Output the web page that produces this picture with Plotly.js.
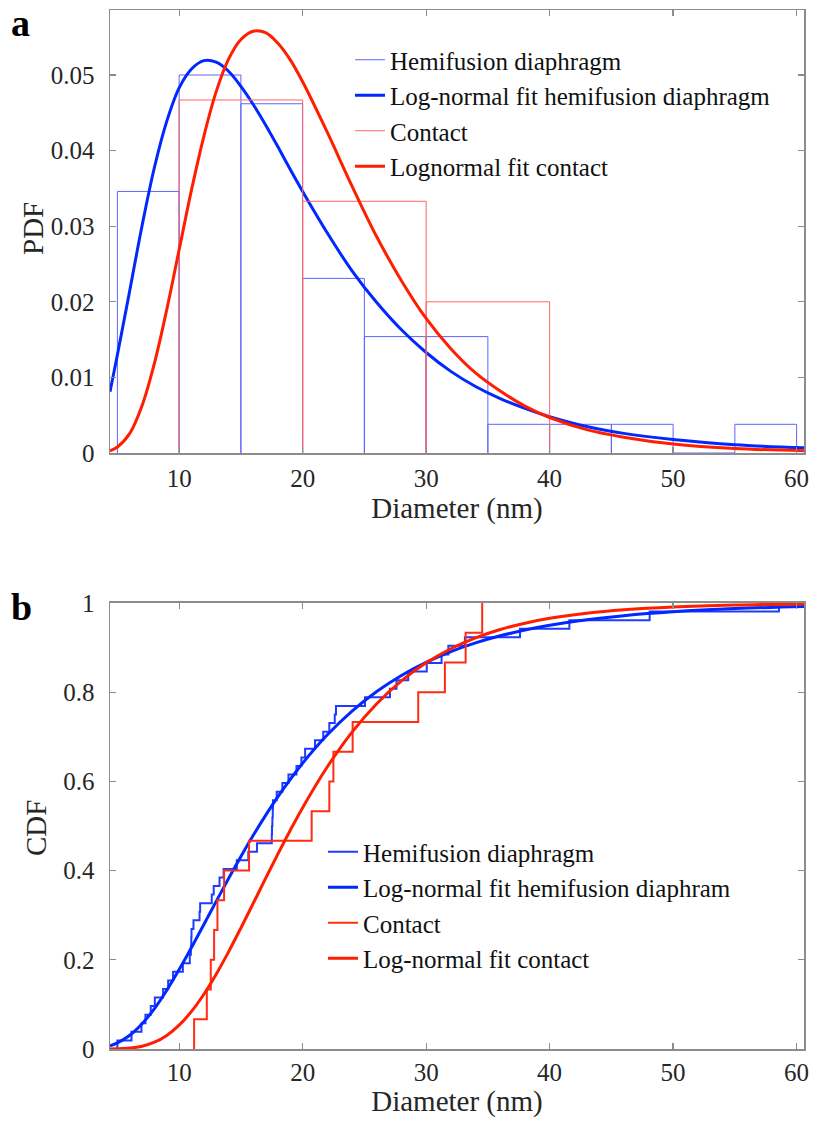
<!DOCTYPE html>
<html>
<head>
<meta charset="utf-8">
<script src="https://cdn.plot.ly/plotly-3.0.1.min.js"></script>
<style>html,body{margin:0;padding:0;background:#fff;}</style>
</head>
<body>
<div id="chart" style="width:814px;height:1122px;"></div>
<script>
// ---------- data ----------
// Histogram (PDF normalisation) - hemifusion diaphragm, bin width 5
const hemiBinEdges = [5, 10, 15, 20, 25, 30, 35, 40, 45, 50, 55, 60];
const hemiBinPdf   = [0.0346, 0.0500, 0.0462, 0.0231, 0.0154, 0.0154, 0.0038, 0.0038, 0.0038, 0, 0.0038];
// Histogram - contact, bin width 10
const contactBinEdges = [10, 20, 30, 40];
const contactBinPdf   = [0.0467, 0.0333, 0.0200];

// Log-normal fit curves
const fitX = [4.4, 5, 6, 7, 8, 9, 10, 11, 12, 13, 14, 15, 16, 17, 18, 19, 20, 22, 24, 26, 28, 30, 32, 34, 36, 38, 40, 43, 46, 50, 55, 60.6];
const fitHemiPdf = [0.0081, 0.0130, 0.0215, 0.0301, 0.0378, 0.0439, 0.0483, 0.0508, 0.0519, 0.0517, 0.0505, 0.0485, 0.0461, 0.0434, 0.0405, 0.0375, 0.0346, 0.0291, 0.0241, 0.0199, 0.0163, 0.0133, 0.0108, 0.0088, 0.0072, 0.0059, 0.0048, 0.0035, 0.0026, 0.0018, 0.0011, 0.0007];
const fitContactPdf = [0.0003, 0.0008, 0.0026, 0.0063, 0.0119, 0.0190, 0.0269, 0.0348, 0.0419, 0.0478, 0.0521, 0.0547, 0.0558, 0.0556, 0.0542, 0.0520, 0.0491, 0.0424, 0.0353, 0.0286, 0.0228, 0.0178, 0.0138, 0.0106, 0.0082, 0.0062, 0.0047, 0.0031, 0.0021, 0.0012, 0.0006, 0.0003];
const fitHemiCdf = [0.0073, 0.0137, 0.0308, 0.0567, 0.0907, 0.1318, 0.1780, 0.2277, 0.2791, 0.3310, 0.3822, 0.4317, 0.4790, 0.5238, 0.5658, 0.6047, 0.6408, 0.7044, 0.7575, 0.8014, 0.8374, 0.8667, 0.8908, 0.9104, 0.9264, 0.9393, 0.9499, 0.9623, 0.9715, 0.9802, 0.9873, 0.9921];
const fitContactCdf = [0.0001, 0.0004, 0.0020, 0.0063, 0.0152, 0.0305, 0.0534, 0.0843, 0.1228, 0.1678, 0.2178, 0.2714, 0.3267, 0.3825, 0.4375, 0.4905, 0.5411, 0.6327, 0.7105, 0.7742, 0.8254, 0.8658, 0.8974, 0.9217, 0.9404, 0.9547, 0.9656, 0.9771, 0.9848, 0.9911, 0.9954, 0.9978];

// Empirical CDF steps - hemifusion diaphragm (n = 52)
const ecdfHemiX = [5.0, 5.0, 6.14, 6.95, 7.27, 7.7, 8.03, 8.7, 9.11, 9.51, 10.3, 10.86, 10.95, 10.98, 11.0, 11.16, 11.65, 11.7, 12.64, 12.8, 13.27, 13.6, 14.67, 15.6, 16.3, 17.5, 17.52, 17.55, 17.58, 17.6, 17.9, 18.36, 18.85, 19.5, 19.9, 20.2, 21.0, 21.67, 22.16, 22.6, 22.7, 25.05, 27.07, 27.6, 28.55, 30.05, 31.25, 31.8, 33.14, 37.6, 41.6, 48.1, 58.57];
const ecdfHemiY = [0, 0.0192, 0.0385, 0.0577, 0.0769, 0.0962, 0.1154, 0.1346, 0.1538, 0.1731, 0.1923, 0.2115, 0.2308, 0.25, 0.2692, 0.2885, 0.3077, 0.3269, 0.3462, 0.3654, 0.3846, 0.4038, 0.4231, 0.4423, 0.4615, 0.4808, 0.5, 0.5192, 0.5385, 0.5577, 0.5769, 0.5962, 0.6154, 0.6346, 0.6538, 0.6731, 0.6923, 0.7115, 0.7308, 0.75, 0.7692, 0.7885, 0.8077, 0.8269, 0.8462, 0.8654, 0.8846, 0.9038, 0.9231, 0.9423, 0.9615, 0.9808, 1];
// Empirical CDF steps - contact (n = 15)
const ecdfContactX = [11.21, 11.21, 12.24, 12.56, 12.83, 13.1, 13.64, 15.66, 20.73, 22.16, 22.49, 24.05, 29.36, 31.52, 33.2, 34.54];
const ecdfContactY = [0, 0.0667, 0.1333, 0.2, 0.2667, 0.3333, 0.4, 0.4667, 0.5333, 0.6, 0.6667, 0.7333, 0.8, 0.8667, 0.9333, 1];

// Tick values
const xTicks = [10, 20, 30, 40, 50, 60];
const pdfTicks = [0, 0.01, 0.02, 0.03, 0.04, 0.05];
const cdfTicks = [0, 0.2, 0.4, 0.6, 0.8, 1];

// ---------- styling ----------
const FONT = 'Liberation Serif, "Times New Roman", serif';
const BLUE = 'rgb(0,40,255)';
const RED = 'rgb(255,30,0)';
const BLUE_THIN = 'rgb(95,100,255)';
const RED_THIN = 'rgb(255,100,100)';
const AX = '#8c8c8c';
const TXT = '#262626';

// bar outlines (each bin drawn as a rectangle, like the reference)
function outline(edges, vals) {
  const xs = [], ys = [];
  for (let i = 0; i < vals.length; i++) {
    xs.push(edges[i], edges[i], edges[i + 1], edges[i + 1], null);
    ys.push(0, vals[i], vals[i], 0, null);
  }
  return {xs, ys};
}
const hemiBars = outline(hemiBinEdges, hemiBinPdf);
const contactBars = outline(contactBinEdges, contactBinPdf);

const traces = [
  {x: hemiBars.xs, y: hemiBars.ys, type: 'scatter', mode: 'lines', name: 'Hemifusion diaphragm',
   line: {color: BLUE_THIN, width: 1}, xaxis: 'x', yaxis: 'y', legend: 'legend', connectgaps: false},
  {x: fitX, y: fitHemiPdf, type: 'scatter', mode: 'lines', name: 'Log-normal fit hemifusion diaphragm',
   line: {color: BLUE, width: 3, shape: 'spline'}, xaxis: 'x', yaxis: 'y', legend: 'legend'},
  {x: contactBars.xs, y: contactBars.ys, type: 'scatter', mode: 'lines', name: 'Contact',
   line: {color: RED_THIN, width: 1}, xaxis: 'x', yaxis: 'y', legend: 'legend', connectgaps: false},
  {x: fitX, y: fitContactPdf, type: 'scatter', mode: 'lines', name: 'Lognormal fit contact',
   line: {color: RED, width: 3, shape: 'spline'}, xaxis: 'x', yaxis: 'y', legend: 'legend'},

  {x: ecdfHemiX, y: ecdfHemiY, type: 'scatter', mode: 'lines', name: 'Hemifusion diaphragm',
   line: {color: 'rgb(30,60,255)', width: 2, shape: 'hv'}, xaxis: 'x2', yaxis: 'y2', legend: 'legend2'},
  {x: fitX, y: fitHemiCdf, type: 'scatter', mode: 'lines', name: 'Log-normal fit hemifusion diaphram',
   line: {color: BLUE, width: 3, shape: 'spline'}, xaxis: 'x2', yaxis: 'y2', legend: 'legend2'},
  {x: ecdfContactX, y: ecdfContactY, type: 'scatter', mode: 'lines', name: 'Contact',
   line: {color: 'rgb(255,45,20)', width: 2, shape: 'hv'}, xaxis: 'x2', yaxis: 'y2', legend: 'legend2'},
  {x: fitX, y: fitContactCdf, type: 'scatter', mode: 'lines', name: 'Log-normal fit contact',
   line: {color: RED, width: 3, shape: 'spline'}, xaxis: 'x2', yaxis: 'y2', legend: 'legend2'}
];

const axisBase = {
  showline: true, linecolor: AX, linewidth: 1.5, mirror: 'ticks',
  ticks: 'inside', ticklen: 6, tickwidth: 1.2, tickcolor: AX,
  showgrid: false, zeroline: false, fixedrange: true,
  tickfont: {family: FONT, size: 25, color: TXT}
};
const titleFont = {family: FONT, size: 29, color: TXT};

// pixel -> paper helpers for the free-standing labels
const PL = 110, PW = 694, PB = 1049, PH = 1039;
const px = v => (v - PL) / PW;
const py = v => (PB - v) / PH;

const layout = {
  width: 814, height: 1122,
  margin: {l: 110, r: 10, t: 10, b: 73, pad: 0},
  paper_bgcolor: '#ffffff', plot_bgcolor: '#ffffff',
  showlegend: true,
  xaxis: Object.assign({}, axisBase, {
    domain: [0, 1], anchor: 'y', range: [4.4, 60.6], tickmode: 'array', tickvals: xTicks,
    ticklabelstandoff: 2,
    title: {text: 'Diameter (nm)', font: titleFont, standoff: 3}
  }),
  yaxis: Object.assign({}, axisBase, {
    domain: [0.5736, 1], anchor: 'x', range: [0, 0.0586], tickmode: 'array', tickvals: pdfTicks,
    ticktext: pdfTicks.map(v => v === 0 ? '0' : v.toFixed(2)),
    ticklabelstandoff: 9
  }),
  xaxis2: Object.assign({}, axisBase, {
    domain: [0, 1], anchor: 'y2', range: [4.4, 60.6], tickmode: 'array', tickvals: xTicks,
    ticklabelstandoff: 0,
    title: {text: 'Diameter (nm)', font: titleFont, standoff: 0}
  }),
  yaxis2: Object.assign({}, axisBase, {
    domain: [0, 0.4293], anchor: 'x2', range: [0, 1], tickmode: 'array', tickvals: cdfTicks,
    ticktext: cdfTicks.map(v => String(v)),
    ticklabelstandoff: 9
  }),
  legend: {
    x: px(350), y: py(37), xanchor: 'left', yanchor: 'top',
    bgcolor: 'rgba(0,0,0,0)', borderwidth: 0,
    font: {family: FONT, size: 25, color: '#111'}, itemwidth: 30, tracegroupgap: 0
  },
  legend2: {
    x: px(323), y: py(829), xanchor: 'left', yanchor: 'top',
    bgcolor: 'rgba(0,0,0,0)', borderwidth: 0,
    font: {family: FONT, size: 25, color: '#111'}, itemwidth: 30, tracegroupgap: 0
  },
  annotations: [
    {text: 'PDF', xref: 'paper', yref: 'paper', x: px(33), y: py(229), textangle: -90,
     xanchor: 'center', yanchor: 'middle', showarrow: false, font: titleFont},
    {text: 'CDF', xref: 'paper', yref: 'paper', x: px(36), y: py(828), textangle: -90,
     xanchor: 'center', yanchor: 'middle', showarrow: false, font: titleFont},
    {text: '<b>a</b>', xref: 'paper', yref: 'paper', x: px(9), y: py(0),
     xanchor: 'left', yanchor: 'top', showarrow: false, font: {family: FONT, size: 38, color: '#000'}},
    {text: '<b>b</b>', xref: 'paper', yref: 'paper', x: px(9), y: py(607),
     xanchor: 'left', yanchor: 'middle', showarrow: false, font: {family: FONT, size: 38, color: '#000'}}
  ]
};

Plotly.newPlot('chart', traces, layout, {staticPlot: true, displayModeBar: false});
</script>
</body>
</html>
